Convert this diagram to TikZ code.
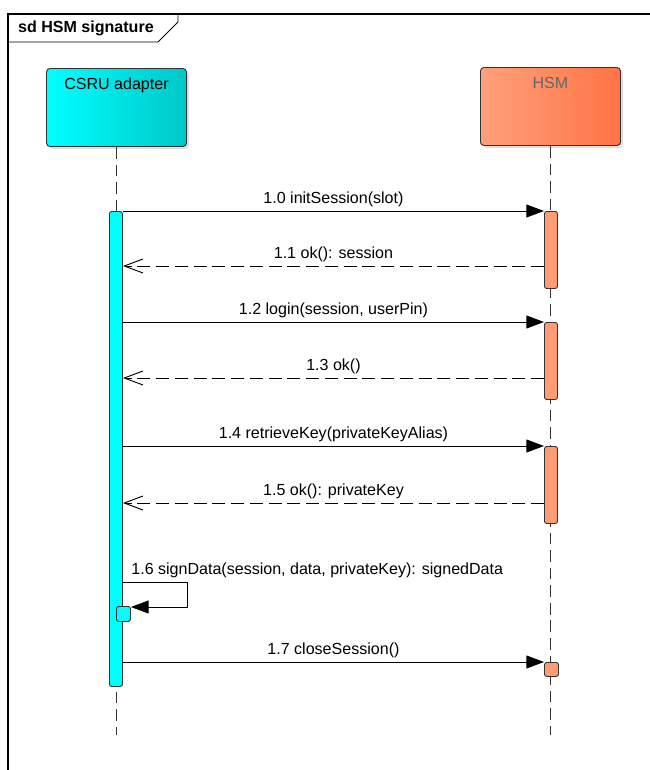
\documentclass[tikz,border=0pt]{standalone}
\usepackage{fontspec}
\setmainfont{Liberation Sans}
\usetikzlibrary{arrows.meta,shadows}
\definecolor{csrucyan}{HTML}{00FFFF}
\definecolor{csrudark}{HTML}{00C8C8}
\definecolor{hsmlight}{HTML}{FFA07C}
\definecolor{hsmdark}{HTML}{FF7444}
\definecolor{hsmbar}{HTML}{FF9C76}
\definecolor{edge}{HTML}{333333}

\begin{document}
\begin{tikzpicture}[x=0.03cm,y=-0.03cm,
  every node/.style={font=\fontsize{13.7}{16}\selectfont},
  lifebox/.style={draw=edge, thick, rounded corners=3pt, anchor=north west,
    minimum width=4.2cm, minimum height=2.34cm,
    drop shadow={shadow xshift=2pt, shadow yshift=-2pt, opacity=0.25}},
  actbar/.style={draw=edge, thick, rounded corners=2pt, anchor=north west,
    minimum width=0.39cm, inner sep=0pt},
  lifeline/.style={draw=edge, thick, dash pattern=on 10pt off 5pt},
  call/.style={draw=black, line width=0.8pt, -{Triangle[length=15pt,width=11pt]}},
  reply/.style={draw=black, line width=0.8pt, dash pattern=on 11pt off 5pt,
    -{Straight Barb[length=16pt,width=12pt,line width=0.8pt]}},
  msglabel/.style={midway, above, inner sep=3pt}]
  \useasboundingbox (0,0) rectangle (650,770);
  \draw[line width=1pt] (650,14) -- (8,14) -- (8,770);
  \draw[line width=0.8pt] (8,42) -- (158,42) -- (178,22) -- (178,14);
  \node[anchor=west, font=\fontsize{13.7}{16}\selectfont\bfseries] (title) at (14,28) {sd HSM signature};

  \node[lifebox, left color=csrucyan, right color=csrudark,
    label={[anchor=north, yshift=-5pt]north:CSRU adapter}] (csru) at (46,68) {};
  \node[lifebox, left color=hsmlight, right color=hsmdark,
    label={[anchor=north, yshift=-5pt, text=black!60]north:HSM}] (hsm) at (480,67) {};

  \coordinate (end) at (0,735);
  \draw[lifeline] (csru.south) -- (csru.south |- end);
  \draw[lifeline] (hsm.south) -- (hsm.south |- end);

  \node[actbar, fill=csrucyan, minimum height=14.25cm] (csruact) at (109,211) {};
  \node[actbar, fill=hsmbar, minimum height=2.31cm] (hsmact1) at (544,211) {};
  \node[actbar, fill=hsmbar, minimum height=2.31cm] (hsmact2) at (544,322) {};
  \node[actbar, fill=hsmbar, minimum height=2.31cm] (hsmact3) at (544,446) {};
  \node[actbar, fill=csrucyan, minimum width=0.42cm, minimum height=0.45cm] (selfact) at (116,606) {};
  \node[actbar, fill=hsmbar, minimum width=0.42cm, minimum height=0.42cm] (hsmact4) at (544,662) {};

  \coordinate (r1) at (0,266);
  \coordinate (r2) at (0,378);
  \coordinate (r3) at (0,503);
  \coordinate (s1) at (0,582);
  \coordinate (s2) at (187,607);

  \draw[call] (csruact.east |- hsmact1.north) -- (hsmact1.north west)
    node[msglabel] {1.0 initSession(slot)};
  \draw[reply] (hsmact1.west |- r1) -- (csruact.east |- r1)
    node[msglabel] {1.1 ok(): session};
  \draw[call] (csruact.east |- hsmact2.north) -- (hsmact2.north west)
    node[msglabel] {1.2 login(session, userPin)};
  \draw[reply] (hsmact2.west |- r2) -- (csruact.east |- r2)
    node[msglabel] {1.3 ok()};
  \draw[call] (csruact.east |- hsmact3.north) -- (hsmact3.north west)
    node[msglabel] {1.4 retrieveKey(privateKeyAlias)};
  \draw[reply] (hsmact3.west |- r3) -- (csruact.east |- r3)
    node[msglabel] {1.5 ok(): privateKey};
  \draw[call] (csruact.east |- s1) -- (s2 |- s1) -- (s2) -- (selfact.east |- s2);
  \node[anchor=south west, inner sep=3pt] (selflabel) at ([xshift=4pt]csruact.east |- s1)
    {1.6 signData(session, data, privateKey): signedData};
  \draw[call] (csruact.east |- hsmact4.north) -- (hsmact4.north west)
    node[msglabel] {1.7 closeSession()};
\end{tikzpicture}
\end{document}
